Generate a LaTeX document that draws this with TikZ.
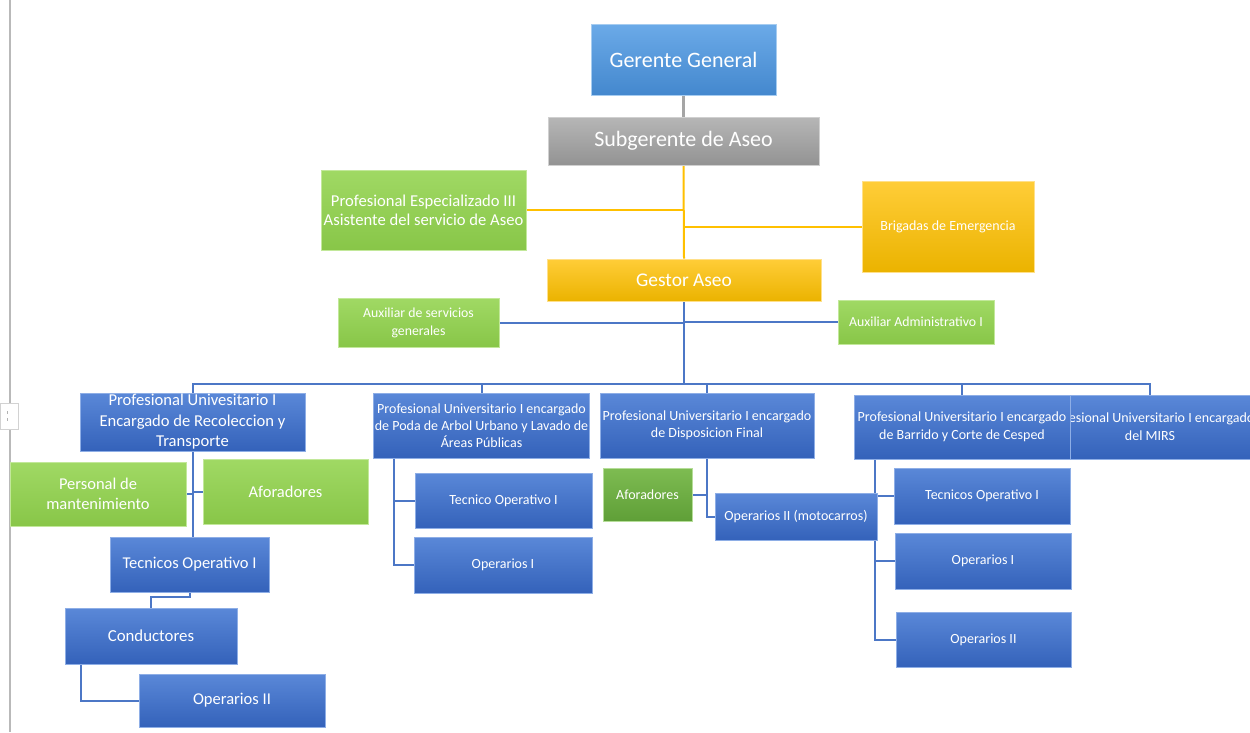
\documentclass[tikz,border=0pt]{standalone}
\usepackage{fontspec}
\setmainfont{Carlito}
\usetikzlibrary{backgrounds,calc}
\definecolor{blueT}{HTML}{5A88D8}
\definecolor{blueB}{HTML}{3462BA}
\definecolor{blueE}{HTML}{8EAEE6}
\definecolor{ggT}{HTML}{6BAAE8}
\definecolor{ggB}{HTML}{4488CE}
\definecolor{ggE}{HTML}{A6CCF0}
\definecolor{grayT}{HTML}{B6B6B6}
\definecolor{grayB}{HTML}{939393}
\definecolor{grayE}{HTML}{D0D0D0}
\definecolor{greenT}{HTML}{A0D964}
\definecolor{greenB}{HTML}{88C648}
\definecolor{greenE}{HTML}{C2E89A}
\definecolor{dgreenT}{HTML}{7EBC52}
\definecolor{dgreenB}{HTML}{5F9F37}
\definecolor{dgreenE}{HTML}{B5DD98}
\definecolor{yelT}{HTML}{FFCD38}
\definecolor{yelB}{HTML}{EBB300}
\definecolor{yelE}{HTML}{FFE08A}
\definecolor{lineblue}{HTML}{4C77C6}
\definecolor{lineyel}{HTML}{FFC000}
\definecolor{linegray}{HTML}{A5A5A5}
\tikzset{
  box/.style={rectangle, inner sep=1pt, align=center, text=white, line width=0.9pt},
  bluebox/.style={box, top color=blueT, bottom color=blueB, draw=blueE},
  ggbox/.style={box, top color=ggT, bottom color=ggB, draw=ggE},
  graybox/.style={box, top color=grayT, bottom color=grayB, draw=grayE},
  greenbox/.style={box, top color=greenT, bottom color=greenB, draw=greenE},
  dgreenbox/.style={box, top color=dgreenT, bottom color=dgreenB, draw=dgreenE},
  yelbox/.style={box, top color=yelT, bottom color=yelB, draw=yelE},
  fs/.style n args={2}{font=\fontsize{#1}{#2}\selectfont},
  bl/.style={draw=lineblue, line width=2pt},
  yl/.style={draw=lineyel, line width=2pt},
  gl/.style={draw=linegray, line width=2.4pt},
}
\begin{document}
\begin{tikzpicture}[x=1pt,y=-1pt]
\useasboundingbox (0,0) rectangle (1250,732);

% top
\node[ggbox, minimum width=185, minimum height=71, fs={22}{26}] (gg) at (683.5,59.5) {Gerente General};
\node[graybox, minimum width=271, minimum height=48, fs={22}{26}] (sub) at (683.5,141) {Subgerente de Aseo};
\node[greenbox, minimum width=205, minimum height=80, fs={16.6}{19}] (pe) at (423.5,210) {Profesional Especializado III\\Asistente del servicio de Aseo};
\node[yelbox, minimum width=172, minimum height=91, fs={14}{16}] (brig) at (948,226.5) {Brigadas de Emergencia};
\node[yelbox, minimum width=274, minimum height=42, fs={19.4}{22}] (gestor) at (684,280) {Gestor Aseo};
\node[greenbox, minimum width=161, minimum height=49, fs={13.8}{18}] (aux1) at (418.5,322.5) {Auxiliar de servicios\\generales};
\node[greenbox, minimum width=156, minimum height=44, fs={13.8}{16}] (aux2) at (916,322) {Auxiliar Administrativo I};

% level 3
\node[bluebox, minimum width=225, minimum height=58, fs={16.6}{20.5}] (pu1) at (192.5,422) {Profesional Univesitario I\\Encargado de Recoleccion y\\Transporte};
\node[bluebox, minimum width=215, minimum height=65, fs={14}{17}] (pu2) at (481.5,425.5) {Profesional Universitario I encargado\\de Poda de Arbol Urbano y Lavado de\\Áreas Públicas};
\node[bluebox, minimum width=214, minimum height=65, fs={14}{17}] (pu3) at (707,425.5) {Profesional Universitario I encargado\\de Disposicion Final};
\node[bluebox, minimum width=216, minimum height=64, fs={14}{18}] (pu5) at (1150,427) {Profesional Universitario I encargado\\del MIRS};
\node[bluebox, minimum width=216, minimum height=64, fs={14}{18}] (pu4) at (962,427) {Profesional Universitario I encargado\\de Barrido y Corte de Cesped};

% left branch
\node[greenbox, minimum width=176, minimum height=64, fs={16.5}{20}] (pm) at (98,494) {Personal de\\mantenimiento};
\node[greenbox, minimum width=165, minimum height=65, fs={16.5}{19}] (af1) at (285.5,491.5) {Aforadores};
\node[bluebox, minimum width=159, minimum height=55, fs={16.5}{19}] (to1) at (189.5,564.5) {Tecnicos Operativo I};
\node[bluebox, minimum width=172, minimum height=56, fs={16.8}{19}] (cond) at (151,636) {Conductores};
\node[bluebox, minimum width=186, minimum height=53, fs={16.5}{19}] (op2a) at (232,700.5) {Operarios II};

% poda branch
\node[bluebox, minimum width=177, minimum height=55, fs={14}{16}] (to2) at (503.5,500.5) {Tecnico Operativo I};
\node[bluebox, minimum width=178, minimum height=56, fs={14}{16}] (op1b) at (503,565) {Operarios I};

% disposicion branch
\node[dgreenbox, minimum width=89, minimum height=53, fs={14}{16}] (af2) at (647.5,494.5) {Aforadores};
\node[bluebox, minimum width=162, minimum height=47, fs={14}{16}] (op2m) at (796,516.5) {Operarios II (motocarros)};

% barrido branch
\node[bluebox, minimum width=176, minimum height=56, fs={14}{16}] (to3) at (982,496) {Tecnicos Operativo I};
\node[bluebox, minimum width=176, minimum height=56, fs={14}{16}] (op1c) at (983,561) {Operarios I};
\node[bluebox, minimum width=175, minimum height=55, fs={14}{16}] (op2c) at (983.5,639.5) {Operarios II};

\begin{pgfonlayer}{background}
\fill[white] (0,0) rectangle (1250,732);
\draw[gray!55, line width=1.3pt] (10,0) -- (10,732);
\draw[gray!35, fill=white, line width=0.8pt] (0,403) rectangle (18,429);
\draw[gray!60, line width=1pt] (7,411) -- (7,414) (7,418) -- (7,421);
\draw[gl] (gg.south) -- (sub.north);
\draw[yl] (sub.south) -- (gestor.north);
\draw[yl] (pe.east) -- (pe.east -| sub.south);
\draw[yl] (brig.west) -- (brig.west -| sub.south);
\draw[bl] (aux1.east) -- (aux1.east -| gestor.south);
\draw[bl] (aux2.west) -- (aux2.west -| gestor.south);
\coordinate (bus) at (684,384);
\draw[bl] (gestor.south) -- (bus);
\draw[bl] (bus) -| (pu1.north);
\draw[bl] (bus) -| (pu2.north);
\draw[bl] (bus) -| (pu3.north);
\draw[bl] (bus) -| (pu4.north);
\draw[bl] (bus) -| (pu5.north);
% left
\draw[bl] (pu1.south) -- (pu1.south |- to1.north);
\draw[bl] (pm.east) -- (pm.east -| pu1.south);
\draw[bl] (af1.west) -- (af1.west -| pu1.south);
\draw[bl] (to1.south) -- ++(0,5) -| (cond.north);
\draw[bl] ([xshift=16]cond.south west) |- (op2a.west);
% poda
\draw[bl] ([xshift=21]pu2.south west) |- (to2.west);
\draw[bl] ([xshift=21]pu2.south west) |- (op1b.west);
% disposicion
\draw[bl] (pu3.south) |- (op2m.west);
\draw[bl] (af2.east) -- (af2.east -| pu3.south);
% barrido
\draw[bl] ([xshift=21]pu4.south west) |- (to3.west);
\draw[bl] ([xshift=21]pu4.south west) |- (op1c.west);
\draw[bl] ([xshift=21]pu4.south west) |- (op2c.west);
\end{pgfonlayer}
\end{tikzpicture}
\end{document}
